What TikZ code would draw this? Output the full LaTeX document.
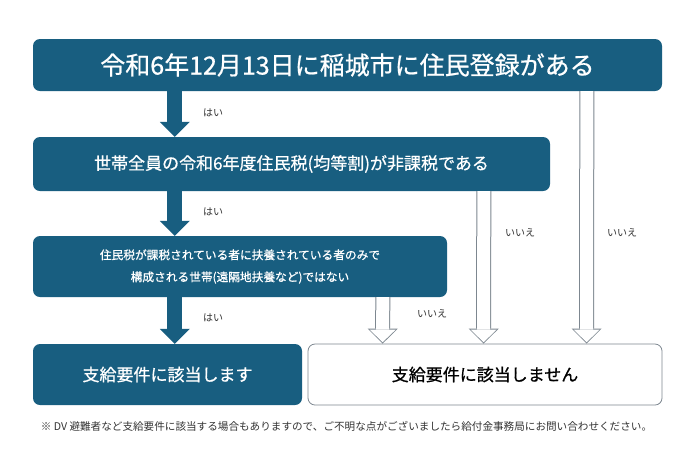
\documentclass[tikz,border=0pt]{standalone}
\usepackage{fontspec}
\setmainfont{Noto Sans CJK JP}
\newfontfamily\jpmed[FakeBold=0.7]{Noto Sans CJK JP}
\usetikzlibrary{arrows.meta}
\definecolor{boxblue}{HTML}{185E80}
\definecolor{arrowgray}{HTML}{7D8790}
\definecolor{labelgray}{HTML}{333333}

\begin{document}
\begin{tikzpicture}[x=1pt,y=-1pt,
  bluebox/.style={fill=boxblue,text=white,rounded corners=7pt,inner sep=0pt,align=center},
  whitebox/.style={draw=arrowgray,fill=white,text=black,rounded corners=7pt,inner sep=0pt,line width=0.8pt},
  yesarrow/.style={boxblue,line width=15pt,-{Triangle[width=30pt,length=15pt,line width=0pt]}},
  noarrow/.style={white,line width=13pt,shorten >=1.4pt,-{Triangle[width=26pt,length=12.6pt,line width=0pt]},
    preaction={draw=arrowgray,line width=15pt,shorten >=0pt,-{Triangle[width=30pt,length=15pt,line width=0pt]}}},
  lbl/.style={text=labelgray,font=\fontsize{10pt}{12pt}\selectfont,inner sep=0pt}]
\path[fill=white] (0,0) rectangle (700,475);
\useasboundingbox (0,0) rectangle (700,475);
% question boxes
\node[bluebox,minimum width=629pt,minimum height=52pt,font=\jpmed\fontsize{25pt}{30pt}\selectfont] (b1) at (347.5,65) {\raisebox{-2pt}{令和6年12月13日に稲城市に住民登録がある}};
\node[bluebox,minimum width=517pt,minimum height=54pt,font=\jpmed\fontsize{17pt}{20pt}\selectfont] (b2) at (291.5,164) {世帯全員の令和6年度住民税(均等割)が非課税である};
\node[bluebox,minimum width=414pt,minimum height=61pt,font=\jpmed\fontsize{11.7pt}{22pt}\selectfont] (b3) at (240,266.5) {住民税が課税されている者に扶養されている者のみで\\構成される世帯(遠隔地扶養など)ではない};
% result boxes
\node[bluebox,minimum width=269pt,minimum height=61pt,font=\jpmed\fontsize{17pt}{20pt}\selectfont] (b4) at (167.5,374.5) {支給要件に該当します};
\node[whitebox,minimum width=354pt,minimum height=61pt,font=\jpmed\fontsize{17pt}{20pt}\selectfont] (b5) at (485,374.5) {支給要件に該当しません};
% yes arrows
\draw[yesarrow] ([xshift=142pt]b1.south west) -- ([xshift=142pt]b2.north west);
\draw[yesarrow] ([xshift=142pt]b2.south west) -- ([xshift=142pt]b3.north west);
\draw[yesarrow] ([xshift=142pt]b3.south west) -- ([xshift=142pt]b4.north west);
\node[lbl] (y1) at (213,113) {はい};
\node[lbl] (y2) at (213,212) {はい};
\node[lbl] (y3) at (213,318) {はい};
% no arrows
\draw[noarrow] ([xshift=350pt]b3.south west) -- ([xshift=75pt]b5.north west);
\draw[noarrow] ([xshift=451pt]b2.south west) -- ([xshift=176pt]b5.north west);
\draw[noarrow] ([xshift=554pt]b1.south west) -- ([xshift=279pt]b5.north west);
\node[lbl] (n1) at (432,314) {いいえ};
\node[lbl] (n2) at (520,233) {いいえ};
\node[lbl] (n3) at (622,233) {いいえ};
% note
\node[text=labelgray,font=\fontsize{10.6pt}{12pt}\selectfont,inner sep=0pt] (note) at (346.5,426) {※ DV 避難者など支給要件に該当する場合もありますので、ご不明な点がございましたら給付金事務局にお問い合わせください。};
\end{tikzpicture}
\end{document}
